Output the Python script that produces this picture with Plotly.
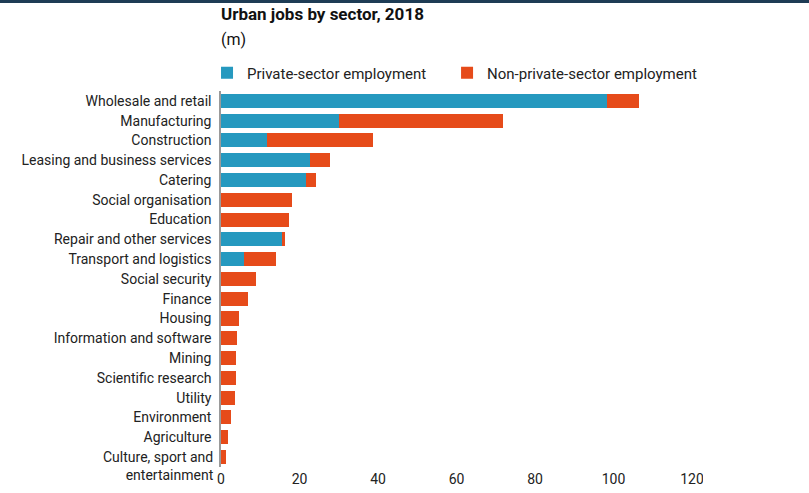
import plotly.graph_objects as go

# Urban jobs by sector, 2018 (millions)
sectors = [
    "Wholesale and retail", "Manufacturing", "Construction",
    "Leasing and business services", "Catering", "Social organisation",
    "Education", "Repair and other services", "Transport and logistics",
    "Social security", "Finance", "Housing", "Information and software",
    "Mining", "Scientific research", "Utility", "Environment", "Agriculture",
    "Culture, sport and entertainment",
]
private = [98.4, 30.1, 11.7, 22.7, 21.6, 0, 0, 15.5, 5.9,
           0, 0, 0, 0, 0, 0, 0, 0, 0, 0]
non_private = [8.1, 41.7, 27.1, 5.1, 2.5, 18.1, 17.3, 0.8, 8.0,
               8.9, 6.8, 4.5, 4.0, 3.9, 3.9, 3.6, 2.5, 1.8, 1.35]
x_ticks = [0, 20, 40, 60, 80, 100, 120]

# The last sector name is wrapped and hangs below its bar, so it is drawn
# as a separate annotation and left blank on the axis.
wrapped_label = "Culture, sport and<br>entertainment"
tick_text = sectors[:-1] + [""]

BLUE = "#2699bf"
ORANGE = "#e64b1a"
FONT = "Roboto"
TEXT = "#222"

fig = go.Figure()
fig.add_trace(go.Bar(
    y=sectors, x=private, orientation="h", name="Private-sector employment",
    marker=dict(color=BLUE, line=dict(width=0)), legend="legend",
))
fig.add_trace(go.Bar(
    y=sectors, x=non_private, orientation="h", name="Non-private-sector employment",
    marker=dict(color=ORANGE, line=dict(width=0)), legend="legend2",
))

legend_style = dict(
    orientation="h", xanchor="left", y=1.048, yanchor="middle",
    font=dict(family=FONT, size=15, color=TEXT),
    itemwidth=30, bgcolor="rgba(0,0,0,0)",
)

fig.update_layout(
    width=809, height=493,
    margin=dict(l=221, r=106, t=91, b=26, autoexpand=False),
    barmode="stack", bargap=0.29,
    paper_bgcolor="white", plot_bgcolor="white",
    font=dict(family=FONT, size=14, color=TEXT),
    showlegend=True,
    legend=dict(x=-0.029, **legend_style),
    legend2=dict(x=0.469, **legend_style),
    xaxis=dict(
        range=[0, 122.8], tickvals=x_ticks, showgrid=False, zeroline=False,
        showline=False, ticks="", ticklabelstandoff=2, automargin=False,
        tickfont=dict(size=14, color=TEXT), fixedrange=True,
    ),
    yaxis=dict(
        autorange="reversed", showgrid=False, zeroline=False,
        showline=True, linecolor="#9a9a9a", linewidth=1.5, automargin=False,
        tickmode="array", tickvals=sectors, ticktext=tick_text,
        ticks="", ticklabelstandoff=5, tickfont=dict(size=14, color=TEXT),
    ),
)

fig.add_annotation(
    text=wrapped_label, xref="paper", yref="y", x=0, y=sectors[-1],
    xanchor="right", yanchor="top", align="right", showarrow=False,
    xshift=-5, yshift=10, font=dict(family=FONT, size=14, color=TEXT),
)

# Title and unit
fig.add_annotation(
    text="<b>Urban jobs by sector, 2018</b>", xref="paper", yref="paper",
    x=-0.005, y=1.0, yanchor="bottom", xanchor="left", showarrow=False,
    yshift=65, font=dict(family=FONT, size=17, color="#111"),
)
fig.add_annotation(
    text="(m)", xref="paper", yref="paper",
    x=-0.005, y=1.0, yanchor="bottom", xanchor="left", showarrow=False,
    yshift=40, font=dict(family=FONT, size=16, color="#111"),
)

# Dark band across the top edge
fig.add_shape(type="rect", xref="paper", yref="paper",
              x0=-221 / 482, x1=(809 - 221) / 482, y0=1 + 88 / 376, y1=1 + 91 / 376,
              fillcolor="#1e3c55", line_width=0, layer="above")
# Frame clip on the right
fig.add_shape(type="rect", xref="paper", yref="paper",
              x0=1.0, x1=(809 - 221) / 482, y0=-26 / 376, y1=-2 / 376,
              fillcolor="white", line_width=0, layer="above")

fig.write_html("out.html")
